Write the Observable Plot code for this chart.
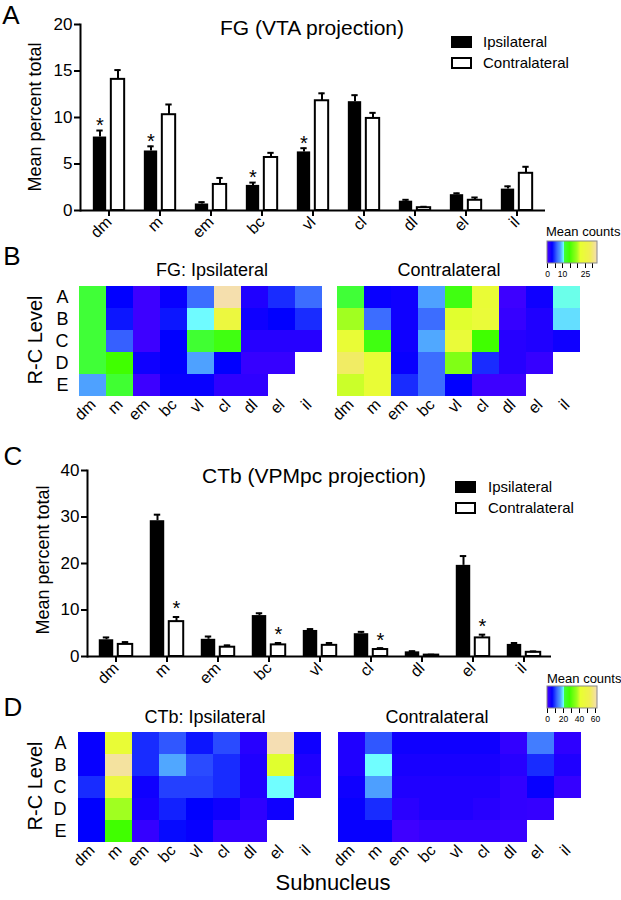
<!DOCTYPE html>
<html><head><meta charset="utf-8">
<script src="https://cdn.jsdelivr.net/npm/d3@7"></script>
<script src="https://cdn.jsdelivr.net/npm/@observablehq/plot@0.6"></script>
<style>
body{margin:0;background:#fff;font-family:"Liberation Sans",Arial,sans-serif;color:#000;}
#page{position:relative;width:621px;height:900px;overflow:hidden;background:#fff;}
.box{position:absolute;}
.box svg{overflow:visible;display:block;}
.lbl{position:absolute;white-space:nowrap;color:#000;line-height:1.1;}
.sw{position:absolute;box-sizing:border-box;}
</style></head><body><div id="page"></div>
<script>
// ---------- data ----------
const subnuclei = ["dm","m","em","bc","vl","cl","dl","el","il"];
const levels = ["A","B","C","D","E"];

// Panel A: FG (VTA projection), mean percent total
const fgIpsiMean    = [7.9, 6.4, 0.7, 2.7, 6.3, 11.7, 1.0, 1.7, 2.3];
const fgIpsiErr     = [0.7, 0.5, 0.2, 0.3, 0.4, 0.7, 0.15, 0.15, 0.3];
const fgContraMean  = [14.1, 10.3, 2.8, 5.7, 11.8, 9.9, 0.3, 1.1, 4.0];
const fgContraErr   = [1.0, 1.1, 0.7, 0.5, 0.8, 0.6, 0.1, 0.3, 0.7];
const fgStarIpsi    = ["dm","m","bc","vl"];
const fgStarContra  = [];
const fgTicks       = [0, 5, 10, 15, 20];

// Panel C: CTb (VPMpc projection)
const ctbIpsiMean   = [3.6, 29.2, 3.7, 8.8, 5.6, 4.9, 1.0, 19.6, 2.6];
const ctbIpsiErr    = [0.5, 1.3, 0.6, 0.5, 0.3, 0.4, 0.15, 2.0, 0.3];
const ctbContraMean = [2.6, 7.5, 2.0, 2.5, 2.4, 1.5, 0.3, 4.0, 0.9];
const ctbContraErr  = [0.5, 1.0, 0.4, 0.4, 0.5, 0.3, 0.1, 0.7, 0.2];
const ctbStarIpsi   = [];
const ctbStarContra = ["m","bc","cl","el"];
const ctbTicks      = [0, 10, 20, 30, 40];

// Panel B: FG mean counts per R-C level (rows A-E) x subnucleus
const fgIpsiCounts = [
  [11.7, 3.3, 0.7, 3.0, 6.7, 33.0, 2.0, 4.7, 6.7],
  [11.7, 4.0, 0.7, 4.0, 11.0, 25.0, 2.7, 3.3, 4.7],
  [11.7, 6.3, 0.7, 3.3, 12.0, 14.0, 1.7, 1.7, 1.7],
  [11.7, 15.0, 2.7, 3.3, 8.7, 3.3, 1.0, 1.0, null],
  [8.7, 12.0, 0.7, 3.0, 3.0, 1.3, 1.3, null, null]
];
const fgContraCounts = [
  [11.7, 3.0, 2.7, 8.7, 14.0, 23.3, 0.7, 2.7, 11.1],
  [20.0, 6.7, 2.7, 6.7, 22.0, 24.0, 1.0, 2.0, 10.3],
  [23.3, 14.0, 2.7, 9.0, 24.0, 15.0, 1.7, 2.0, 2.7],
  [29.3, 23.3, 3.0, 6.7, 18.3, 4.7, 1.7, 1.0, null],
  [21.3, 23.3, 4.7, 6.7, 3.3, 0.7, 0.7, null, null]
];
const fgCountMax = 33.3;
const fgBarTicks = [0, 5, 10, 15, 20, 25, 30];
const fgBarLabels = [0, 10, 25];

// Panel D: CTb mean counts
const ctbIpsiCounts = [
  [5.6, 43.4, 8.7, 11.2, 7.4, 10.5, 3.1, 62.0, 5.0],
  [5.6, 60.1, 8.7, 16.7, 10.5, 8.7, 3.7, 40.9, 3.7],
  [8.7, 46.5, 5.0, 9.9, 9.9, 8.7, 3.7, 20.6, 3.1],
  [6.2, 37.2, 4.3, 8.1, 6.2, 5.0, 2.5, 5.0, null],
  [6.2, 27.9, 1.9, 6.8, 5.6, 1.9, 1.9, null, null]
];
const ctbContraCounts = [
  [3.7, 11.2, 5.0, 5.0, 5.0, 5.0, 2.2, 13.6, 2.5],
  [3.7, 20.6, 4.3, 4.3, 4.3, 4.3, 3.1, 8.7, 3.7],
  [5.0, 16.1, 3.7, 3.7, 3.7, 3.7, 2.2, 5.6, 1.9],
  [5.6, 8.7, 2.8, 3.7, 3.7, 3.1, 2.2, 1.9, null],
  [5.6, 5.6, 1.2, 1.9, 1.9, 1.9, 1.6, null, null]
];
const ctbCountMax = 62;
const ctbBarTicks = [0, 10, 20, 30, 40, 50, 60];
const ctbBarLabels = [0, 20, 40, 60];

// topo-like colour palette
const topoStops  = [0, 0.1, 0.2, 0.27, 0.333, 0.336, 0.45, 0.6, 0.667, 0.85, 1];
const topoColors = ["#4d00ff","#0000ff","#3c6cff","#50a8ff","#70ffff","#40ff40","#40ff00","#a0ff20","#e8ff30","#f0f050","#f5deb3"];
const topoScale = d3.scaleLinear().domain(topoStops).range(topoColors).interpolate(d3.interpolateRgb).clamp(true);
const topo = (t) => topoScale(t);

// ---------- helpers ----------
const page = document.getElementById("page");
const FONT = "Liberation Sans, Arial, sans-serif";
function put(el, left, top) {
  const d = document.createElement("div"); d.className = "box";
  d.style.left = left + "px"; d.style.top = top + "px";
  d.appendChild(el); page.appendChild(d); return d;
}
function label(text, x, y, size, opts = {}) {
  const {anchor = "middle", rotate = 0} = opts;
  const d = document.createElement("div"); d.className = "lbl"; d.textContent = text;
  d.style.left = x + "px"; d.style.top = y + "px"; d.style.fontSize = size + "px";
  const tx = anchor === "middle" ? "-50%" : anchor === "start" ? "0" : "-100%";
  d.style.transform = `translate(${tx},-50%)` + (rotate ? ` rotate(${rotate}deg)` : "");
  page.appendChild(d);
}
function swatch(x, y, w, h, fill) {
  const d = document.createElement("div"); d.className = "sw";
  d.style.left = x + "px"; d.style.top = y + "px"; d.style.width = w + "px"; d.style.height = h + "px";
  d.style.background = fill; d.style.border = "2px solid #000";
  page.appendChild(d);
}

function barChart({ipsi, ipsiErr, contra, contraErr, starIpsi, starContra, yTicks, ml, mr, mt, mb, height, barW, half, starDy}) {
  const width = 621;
  const rows = subnuclei.map((s, i) => ({s, ipsi: ipsi[i], ie: ipsi[i] + ipsiErr[i], contra: contra[i], ce: contra[i] + contraErr[i]}));
  const bw = (width - ml - mr) / subnuclei.length;
  const capHalf = 3.5;
  return Plot.plot({
    width, height, marginLeft: ml, marginRight: mr, marginTop: mt, marginBottom: mb,
    style: {fontFamily: FONT, color: "#000", background: "transparent", overflow: "visible"},
    x: {domain: subnuclei, padding: 0, label: null},
    y: {domain: [0, yTicks[yTicks.length - 1]], label: null},
    marks: [
      Plot.barY(rows, {x: "s", y: "ipsi", fill: "#000", insetLeft: bw / 2 - half - barW / 2, insetRight: bw / 2 + half - barW / 2}),
      Plot.barY(rows, {x: "s", y: "contra", fill: "#fff", stroke: "#000", strokeWidth: 2, insetLeft: bw / 2 + half - barW / 2, insetRight: bw / 2 - half - barW / 2}),
      Plot.ruleX(rows, {x: "s", y1: "ipsi", y2: "ie", dx: -half, strokeWidth: 2}),
      Plot.ruleX(rows, {x: "s", y1: "contra", y2: "ce", dx: half, strokeWidth: 2}),
      Plot.tickY(rows, {x: "s", y: "ie", dx: -half, strokeWidth: 2, insetLeft: bw / 2 - capHalf, insetRight: bw / 2 - capHalf}),
      Plot.tickY(rows, {x: "s", y: "ce", dx: half, strokeWidth: 2, insetLeft: bw / 2 - capHalf, insetRight: bw / 2 - capHalf}),
      Plot.text(rows.filter(d => starIpsi.includes(d.s)), {x: "s", y: "ie", text: () => "*", dx: -half, dy: starDy, fontSize: 20, lineAnchor: "middle"}),
      Plot.text(rows.filter(d => starContra.includes(d.s)), {x: "s", y: "ce", text: () => "*", dx: half, dy: starDy, fontSize: 20, lineAnchor: "middle"}),
      Plot.ruleY([0], {strokeWidth: 2}),
      Plot.frame({anchor: "left", strokeWidth: 2}),
      Plot.axisY({ticks: yTicks, tickSize: 6, tickPadding: 2, fontSize: 17, strokeWidth: 2, label: null}),
      Plot.axisX({tickRotate: -45, tickSize: 6, tickPadding: 3, fontSize: 16, strokeWidth: 2, label: null})
    ]
  });
}

function heatmap({counts, max, width, height, ml, mr, mt, mb, yAxis}) {
  const cells = [];
  levels.forEach((lv, r) => subnuclei.forEach((s, c) => {
    const v = counts[r][c];
    if (v != null) cells.push({lv, s, v});
  }));
  return Plot.plot({
    width, height, marginLeft: ml, marginRight: mr, marginTop: mt, marginBottom: mb,
    style: {fontFamily: FONT, color: "#000", background: "transparent", overflow: "visible"},
    x: {domain: subnuclei, padding: 0, label: null},
    y: {domain: levels, padding: 0, label: null, axis: yAxis ? undefined : null},
    color: {type: "linear", domain: [0, max], interpolate: topo},
    marks: [
      Plot.cell(cells, {x: "s", y: "lv", fill: "v"}),
      Plot.axisX({tickRotate: -45, tickSize: 0, tickPadding: 4, fontSize: 16, label: null}),
      yAxis ? Plot.axisY({tickSize: 0, tickPadding: 9, fontSize: 18, label: null}) : null
    ]
  });
}

function colorbar(max, ticks, shown) {
  const svg = Plot.legend({
    color: {type: "linear", domain: [0, max], interpolate: topo},
    width: 52, height: 40, marginLeft: 1, marginRight: 1, marginTop: 1, marginBottom: 17,
    tickSize: 5, ticks, tickFormat: d => shown.includes(d) ? String(d) : "",
    style: {fontFamily: FONT, fontSize: "8.5px", color: "#000", overflow: "visible", background: "transparent"}
  });
  d3.select(svg).selectAll(".tick line").attr("y1", 0);
  d3.select(svg).append("rect").attr("x", 1).attr("y", 1).attr("width", 50).attr("height", 22)
    .attr("fill", "none").attr("stroke", "#888").attr("stroke-width", 1);
  return svg;
}

// ---------- Panel A ----------
put(barChart({ipsi: fgIpsiMean, ipsiErr: fgIpsiErr, contra: fgContraMean, contraErr: fgContraErr,
  starIpsi: fgStarIpsi, starContra: fgStarContra, yTicks: fgTicks,
  ml: 80, mr: 76, mt: 24, mb: 30, height: 240, barW: 14, half: 9, starDy: -5}), 0, 0);
label("A", 11, 15, 26);
label("FG (VTA projection)", 312, 28, 21);
label("Mean percent total", 36, 117, 18, {rotate: -90});
swatch(451, 36, 21, 12, "#000");
swatch(451, 57, 21, 12, "#fff");
label("Ipsilateral", 483, 42, 15, {anchor: "start"});
label("Contralateral", 483, 63, 15, {anchor: "start"});

// ---------- Panel B ----------
put(heatmap({counts: fgIpsiCounts, max: fgCountMax, width: 340, height: 160, ml: 77, mr: 16, mt: 14, mb: 32.5, yAxis: true}), 0, 270);
put(heatmap({counts: fgContraCounts, max: fgCountMax, width: 280, height: 160, ml: 4, mr: 28, mt: 14, mb: 32.5, yAxis: false}), 330, 270);
label("B", 12, 256, 26);
label("FG: Ipsilateral", 212, 271, 18);
label("Contralateral", 449, 271, 18);
label("R-C Level", 35, 340, 20, {rotate: -90});
label("Mean counts", 546, 232, 13, {anchor: "start"});
put(colorbar(fgCountMax, fgBarTicks, fgBarLabels), 546, 240);

// ---------- Panel C ----------
put(barChart({ipsi: ctbIpsiMean, ipsiErr: ctbIpsiErr, contra: ctbContraMean, contraErr: ctbContraErr,
  starIpsi: ctbStarIpsi, starContra: ctbStarContra, yTicks: ctbTicks,
  ml: 87, mr: 70, mt: 30, mb: 34, height: 250, barW: 15, half: 9.5, starDy: -8}), 0, 440);
label("C", 13, 456, 26);
label("CTb (VPMpc projection)", 314, 476, 21);
label("Mean percent total", 44, 560, 18, {rotate: -90});
swatch(455, 481, 21, 12, "#000");
swatch(455, 502, 21, 12, "#fff");
label("Ipsilateral", 488, 487, 15, {anchor: "start"});
label("Contralateral", 488, 508, 15, {anchor: "start"});

// ---------- Panel D ----------
put(heatmap({counts: ctbIpsiCounts, max: ctbCountMax, width: 340, height: 160, ml: 75, mr: 16, mt: 14, mb: 32.7, yAxis: true}), 0, 716);
put(heatmap({counts: ctbContraCounts, max: ctbCountMax, width: 280, height: 160, ml: 5, mr: 26, mt: 14, mb: 32.7, yAxis: false}), 330, 716);
label("D", 13, 707, 26);
label("CTb: Ipsilateral", 205, 718, 18);
label("Contralateral", 437, 718, 18);
label("R-C Level", 35, 786, 20, {rotate: -90});
label("Mean counts", 547, 679, 13, {anchor: "start"});
put(colorbar(ctbCountMax, ctbBarTicks, ctbBarLabels), 546, 685);

label("Subnucleus", 333, 883, 22);
</script></body></html>
